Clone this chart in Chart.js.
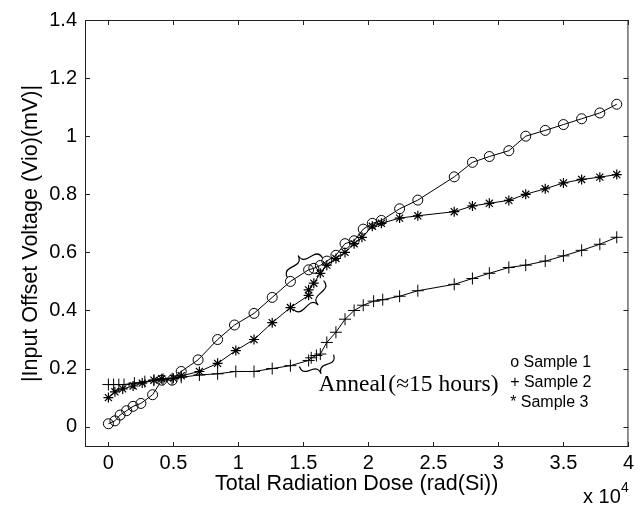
<!DOCTYPE html>
<html>
<head>
<meta charset="utf-8">
<script src="https://cdn.jsdelivr.net/npm/chart.js@4/dist/chart.umd.min.js"></script>
<style>
  html, body { margin: 0; padding: 0; background: #fff; }
  canvas { display: block; }
</style>
</head>
<body>
<canvas id="c" width="638" height="506" style="width:638px;height:506px"></canvas>
<script>
/* dose in units of 1e4 rad(Si), Vio in mV */
const dose1 = [0, 0.05, 0.09, 0.14, 0.19, 0.25, 0.34, 0.41, 0.49, 0.56, 0.69, 0.84, 0.97, 1.12, 1.26, 1.40,
  1.54, 1.58, 1.63, 1.68, 1.75, 1.82, 1.89, 1.96, 2.03, 2.10, 2.24, 2.38, 2.66, 2.80, 2.93, 3.08, 3.21,
  3.36, 3.50, 3.64, 3.78, 3.91];
const vio1 = [0.01, 0.02, 0.04, 0.055, 0.07, 0.08, 0.11, 0.16, 0.16, 0.19, 0.23, 0.30, 0.35, 0.39, 0.445, 0.50,
  0.54, 0.545, 0.555, 0.57, 0.59, 0.63, 0.64, 0.68, 0.70, 0.71, 0.75, 0.78, 0.86, 0.91, 0.93, 0.95, 1.00,
  1.02, 1.04, 1.06, 1.08, 1.11];

const dose2 = [0, 0.04, 0.08, 0.12, 0.20, 0.28, 0.35, 0.42, 0.49, 0.56, 0.70, 0.84, 0.98, 1.12, 1.26, 1.40,
  1.54, 1.56, 1.60, 1.63, 1.68, 1.75, 1.82, 1.89, 1.96, 2.04, 2.11, 2.24, 2.38, 2.66, 2.80, 2.93, 3.08,
  3.21, 3.36, 3.50, 3.64, 3.78, 3.91];
const vio2 = [0.145, 0.145, 0.145, 0.145, 0.15, 0.155, 0.16, 0.163, 0.165, 0.17, 0.178, 0.182, 0.19, 0.19, 0.20, 0.21,
  0.228, 0.237, 0.245, 0.25, 0.29, 0.325, 0.37, 0.40, 0.418, 0.432, 0.437, 0.449, 0.468, 0.49, 0.51, 0.528, 0.548,
  0.556, 0.57, 0.588, 0.607, 0.628, 0.652];

const dose3 = [0, 0.05, 0.11, 0.19, 0.26, 0.35, 0.41, 0.50, 0.56, 0.70, 0.84, 0.98, 1.12, 1.26, 1.40,
  1.54, 1.54, 1.58, 1.63, 1.68, 1.75, 1.82, 1.89, 1.95, 2.03, 2.10, 2.24, 2.38, 2.66, 2.80, 2.93, 3.08,
  3.21, 3.36, 3.50, 3.64, 3.78, 3.91];
const vio3 = [0.10, 0.12, 0.13, 0.14, 0.15, 0.16, 0.165, 0.167, 0.175, 0.19, 0.218, 0.262, 0.30, 0.358, 0.41,
  0.452, 0.471, 0.494, 0.528, 0.556, 0.579, 0.60, 0.63, 0.652, 0.69, 0.70, 0.718, 0.726, 0.74, 0.76, 0.769, 0.779,
  0.80, 0.819, 0.839, 0.851, 0.859, 0.868];

const xTicks = [0, 0.5, 1, 1.5, 2, 2.5, 3, 3.5, 4];
const yTicks = [0, 0.2, 0.4, 0.6, 0.8, 1, 1.2, 1.4];

const legendLines = ['o Sample 1', '+ Sample 2', '* Sample 3'];
const annealText = 'Anneal\u200A(\u224815 hours)';

/* brace end points in data units: [x1, y1, x2, y2, side] */
const braces = [
  [1.377, 0.513, 1.647, 0.581, -1],
  [1.423, 0.404, 1.655, 0.503, 1],
  [1.469, 0.207, 1.732, 0.248, 1],
];

const FONT = 'Liberation Sans, Arial, sans-serif';

const toPts = (xs, ys) => xs.map((x, i) => ({ x, y: ys[i] }));
const series = (label, xs, ys, style, r, bw) => ({
  label,
  data: toPts(xs, ys),
  showLine: true,
  borderColor: '#000',
  borderWidth: 1,
  backgroundColor: 'rgba(0,0,0,0)',
  pointStyle: style,
  pointRadius: r,
  pointBorderColor: '#000',
  pointBackgroundColor: 'rgba(0,0,0,0)',
  pointBorderWidth: bw,
  tension: 0,
});

function drawBrace(ctx, ax, ay, bx, by, w, side) {
  const L = Math.hypot(bx - ax, by - ay);
  const ux = (bx - ax) / L, uy = (by - ay) / L;
  const nx = -uy * side, ny = ux * side;
  const P = (s, t) => [ax + ux * s + nx * t, ay + uy * s + ny * t];
  ctx.beginPath();
  ctx.moveTo(...P(0, 0));
  ctx.quadraticCurveTo(...P(0, w), ...P(w, w));
  ctx.lineTo(...P(L / 2 - w, w));
  ctx.quadraticCurveTo(...P(L / 2, w), ...P(L / 2, 2 * w));
  ctx.quadraticCurveTo(...P(L / 2, w), ...P(L / 2 + w, w));
  ctx.lineTo(...P(L - w, w));
  ctx.quadraticCurveTo(...P(L, w), ...P(L, 0));
  ctx.stroke();
}

const boxPlugin = {
  id: 'box',
  afterDraw(chart) {
    const { ctx, chartArea: a, scales: { x, y } } = chart;
    ctx.save();
    ctx.strokeStyle = '#222';
    ctx.lineWidth = 1;
    ctx.strokeRect(a.left + 0.5, a.top + 0.5, a.right - a.left - 1, a.bottom - a.top - 1);
    ctx.beginPath();
    x.ticks.forEach(t => {
      const px = Math.round(x.getPixelForValue(t.value)) + 0.5;
      ctx.moveTo(px, a.bottom); ctx.lineTo(px, a.bottom - 5);
      ctx.moveTo(px, a.top); ctx.lineTo(px, a.top + 5);
    });
    y.ticks.forEach(t => {
      const py = Math.round(y.getPixelForValue(t.value)) + 0.5;
      ctx.moveTo(a.left, py); ctx.lineTo(a.left + 5, py);
      ctx.moveTo(a.right, py); ctx.lineTo(a.right - 5, py);
    });
    ctx.stroke();

    // braces
    ctx.lineWidth = 1.2;
    ctx.strokeStyle = '#000';
    braces.forEach(([x1, y1, x2, y2, side]) => {
      drawBrace(ctx, x.getPixelForValue(x1), y.getPixelForValue(y1),
        x.getPixelForValue(x2), y.getPixelForValue(y2), 7, side);
    });

    // annotation
    ctx.fillStyle = '#000';
    ctx.textBaseline = 'alphabetic';
    ctx.textAlign = 'left';
    ctx.font = '23.5px "Liberation Serif", "Times New Roman", serif';
    ctx.fillText(annealText, x.getPixelForValue(1.616), y.getPixelForValue(0.122));

    // legend text
    ctx.font = '16px ' + FONT;
    ctx.textBaseline = 'middle';
    legendLines.forEach((s, i) => {
      ctx.fillText(s, x.getPixelForValue(3.09), y.getPixelForValue(0.22) + i * 20);
    });

    // exponent
    ctx.textBaseline = 'alphabetic';
    ctx.font = '20px ' + FONT;
    ctx.fillText('x 10', 583, 503);
    ctx.font = '14px ' + FONT;
    ctx.fillText('4', 621, 492);
    ctx.restore();
  }
};

new Chart(document.getElementById('c'), {
  type: 'scatter',
  data: {
    datasets: [
      series('Sample 1', dose1, vio1, 'circle', 5, 1),
      series('Sample 2', dose2, vio2, 'cross', 6, 1),
      series('Sample 3', dose3, vio3, 'star', 5, 1.2),
    ],
  },
  options: {
    responsive: false,
    animation: false,
    layout: { padding: { top: 15, right: 9, left: 0, bottom: 0 } },
    plugins: { legend: { display: false }, tooltip: { enabled: false } },
    scales: {
      x: {
        type: 'linear',
        min: -0.18,
        max: 4,
        afterBuildTicks: s => { s.ticks = xTicks.map(v => ({ value: v })); },
        afterFit: s => { s.height = 59; },
        grid: { display: false, drawTicks: false },
        border: { display: false },
        ticks: {
          color: '#000',
          font: { family: FONT, size: 20 },
          padding: 4,
          maxRotation: 0,
          callback: v => String(Math.round(v * 10) / 10),
        },
        title: {
          display: true,
          text: 'Total Radiation Dose (rad(Si))',
          color: '#000',
          font: { family: FONT, size: 21.5 },
          padding: { top: 0, bottom: 9 },
        },
      },
      y: {
        type: 'linear',
        min: -0.07,
        max: 1.4,
        afterBuildTicks: s => { s.ticks = yTicks.map(v => ({ value: v })); },
        afterFit: s => { s.width = 85; },
        grid: { display: false, drawTicks: false },
        border: { display: false },
        ticks: {
          color: '#000',
          font: { family: FONT, size: 20 },
          padding: 8,
          callback: v => String(Math.round(v * 10) / 10),
        },
        title: {
          display: true,
          text: '|Input Offset Voltage (Vio)(mV)|',
          color: '#000',
          font: { family: FONT, size: 21.5 },
          padding: { top: 18, bottom: 0 },
        },
      },
    },
  },
  plugins: [boxPlugin],
});
</script>
</body>
</html>
